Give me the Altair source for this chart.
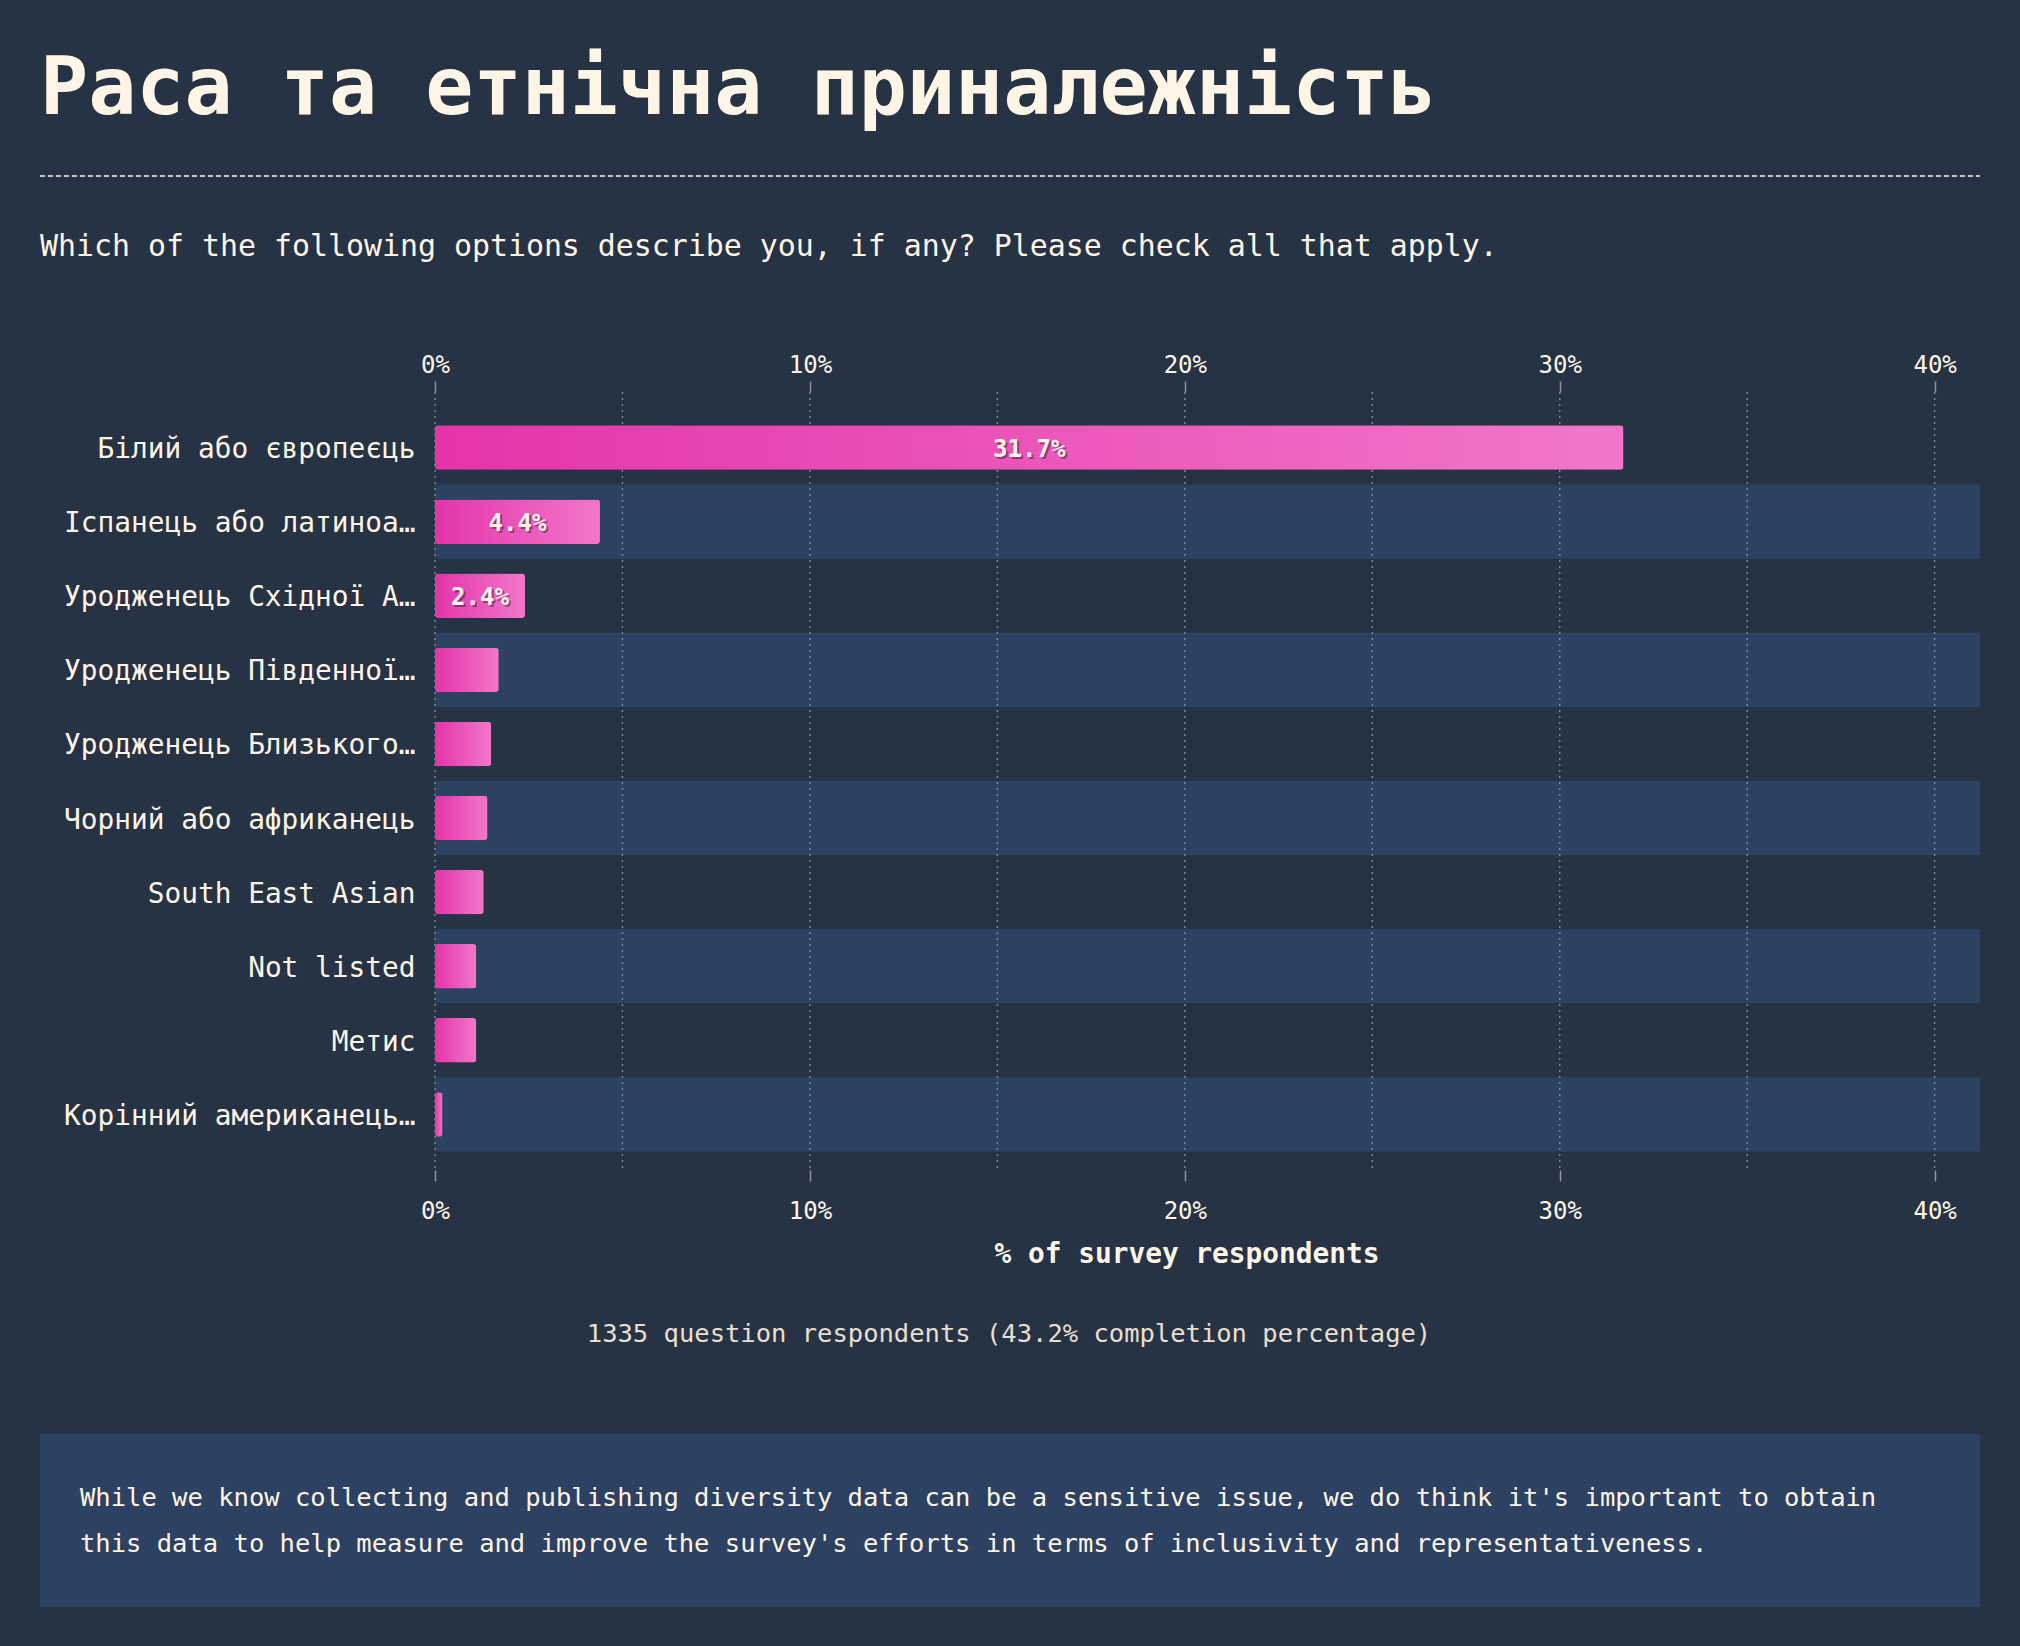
import altair as alt
import pandas as pd

# ---------------- data ----------------
TITLE = "Раса та етнічна приналежність"
SUBTITLE = "Which of the following options describe you, if any? Please check all that apply."
X_TITLE = "% of survey respondents"
RESPONDENTS = "1335 question respondents (43.2% completion percentage)"
NOTE_LINES = [
    "While we know collecting and publishing diversity data can be a sensitive issue, we do think it's important to obtain",
    "this data to help measure and improve the survey's efforts in terms of inclusivity and representativeness.",
]

categories = [
    "Білий або європеєць",
    "Іспанець або латиноамериканець",
    "Уродженець Східної Азії",
    "Уродженець Південної Азії",
    "Уродженець Близького Сходу",
    "Чорний або африканець",
    "South East Asian",
    "Not listed",
    "Метис",
    "Корінний американець або корінний житель Аляски",
]
values = [31.7, 4.4, 2.4, 1.7, 1.5, 1.4, 1.3, 1.1, 1.1, 0.2]
tick_values = [0, 10, 20, 30, 40]
grid_values = [0, 5, 10, 15, 20, 25, 30, 35, 40]

# ---------------- style ----------------
BG = "#263345"
BAND = "#2d4262"
CREAM = "#fff5e6"
MONO = "DejaVu Sans Mono"
W, H = 1545, 778
PAD = {"left": 435, "top": 392, "right": 40, "bottom": 1646 - 392 - 778}

xmax = max(values) * 1.3
xscale = alt.Scale(domain=[0, xmax], nice=False, zero=True)
yscale = alt.Scale(paddingInner=0, paddingOuter=0.25)

df = pd.DataFrame({"label": categories, "value": values})
df["stripe"] = [i % 2 for i in range(len(categories))]

y_axis = alt.Axis(
    orient="left",
    title=None,
    domain=False,
    ticks=False,
    grid=False,
    labelColor=CREAM,
    labelFont=MONO,
    labelFontSize=27.8,
    labelPadding=20,
    labelLimit=356,
    labelOffset=2.5,
)
Y = alt.Y("label:N", sort=categories, scale=yscale, axis=y_axis)

bands = (
    alt.Chart(df)
    .transform_filter("datum.stripe == 1")
    .mark_rect(color=BAND)
    .encode(y=Y, x=alt.value(0), x2=alt.value("width"))
)

grid = (
    alt.Chart(pd.DataFrame({"g": grid_values}))
    .mark_rule(color="#7b8596", strokeDash=[2, 4], strokeWidth=1.5)
    .encode(x=alt.X("g:Q", scale=xscale, axis=None))
)

gradient = alt.Gradient(
    gradient="linear",
    stops=[
        alt.GradientStop(color="#e434aa", offset=0),
        alt.GradientStop(color="#f277ca", offset=1),
    ],
    x1=0, x2=1, y1=0, y2=0,
)

axis_common = dict(
    values=tick_values,
    labelExpr="datum.value + '%'",
    grid=False,
    domain=False,
    ticks=True,
    tickSize=11,
    tickColor="#8f9196",
    tickWidth=1.5,
    labelColor=CREAM,
    labelFont=MONO,
    labelFontSize=24,
    labelFlush=False,
    title=None,
)

bars = (
    alt.Chart(df)
    .mark_bar(color=gradient, height=alt.RelativeBandSize(0.6), cornerRadius=3)
    .encode(
        x=alt.X("value:Q", scale=xscale, axis=alt.Axis(orient="top", labelPadding=4, **axis_common)),
        y=Y,
    )
)

lab_base = (
    alt.Chart(df)
    .transform_filter("datum.value >= 2")
    .transform_calculate(mid="datum.value / 2", txt="format(datum.value, '.1f') + '%'")
)

shadow = lab_base.mark_text(
    font=MONO, fontSize=24, fontWeight="bold", color="#000000", opacity=0.35,
    dx=2, dy=4, baseline="middle", align="center",
).encode(
    x=alt.X("mid:Q", scale=xscale, axis=alt.Axis(orient="bottom", labelPadding=18, **axis_common)),
    y=Y,
    text="txt:N",
)

labels = lab_base.mark_text(
    font=MONO, fontSize=24, fontWeight="bold", color=CREAM, baseline="middle", align="center", dy=2,
).encode(
    x=alt.X("mid:Q", scale=xscale, axis=None),
    y=Y,
    text="txt:N",
)

# ---------------- decorations (outside plot area) ----------------
one = pd.DataFrame({"k": [0]})
left = 40 - PAD["left"]
right_edge = W

title = alt.Chart(pd.DataFrame({"t": [TITLE]})).mark_text(
    font=MONO, fontSize=80, fontWeight="bold", color=CREAM, align="left", baseline="alphabetic"
).encode(text="t:N", x=alt.value(left), y=alt.value(114 - PAD["top"]))

dash = alt.Chart(one).mark_rule(color=CREAM, strokeDash=[5, 3], strokeWidth=1.5).encode(
    x=alt.value(left), x2=alt.value(right_edge), y=alt.value(176 - PAD["top"])
)

subtitle = alt.Chart(pd.DataFrame({"t": [SUBTITLE]})).mark_text(
    font=MONO, fontSize=29.9, color=CREAM, align="left", baseline="alphabetic"
).encode(text="t:N", x=alt.value(left), y=alt.value(256 - PAD["top"]))

xtitle = alt.Chart(pd.DataFrame({"t": [X_TITLE]})).mark_text(
    font=MONO, fontSize=27.8, fontWeight="bold", color=CREAM, align="center", baseline="middle"
).encode(text="t:N", x=alt.value(1187 - PAD["left"]), y=alt.value(1255 - PAD["top"]))

resp = alt.Chart(pd.DataFrame({"t": [RESPONDENTS]})).mark_text(
    font=MONO, fontSize=25.5, color="#e9dfcf", align="center", baseline="alphabetic"
).encode(text="t:N", x=alt.value(1009 - PAD["left"]), y=alt.value(1342 - PAD["top"]))

note_box = alt.Chart(one).mark_rect(color=BAND).encode(
    x=alt.value(left), x2=alt.value(right_edge),
    y=alt.value(1434 - PAD["top"]), y2=alt.value(1607 - PAD["top"]),
)

note_text = alt.Chart(pd.DataFrame({"t": ["\n".join(NOTE_LINES)]})).mark_text(
    font=MONO, fontSize=25.5, color=CREAM, align="left", baseline="alphabetic",
    lineBreak="\n", lineHeight=46,
).encode(text="t:N", x=alt.value(80 - PAD["left"]), y=alt.value(1506 - PAD["top"]))

chart = (
    alt.layer(bands, grid, bars, shadow, labels, title, dash, subtitle, xtitle, resp, note_box, note_text)
    .properties(width=W, height=H, padding=PAD, autosize=alt.AutoSizeParams(type="none"), background=BG)
    .configure_view(stroke=None)
)

chart.save("out.html", embed_options={"renderer": "svg", "actions": False})
